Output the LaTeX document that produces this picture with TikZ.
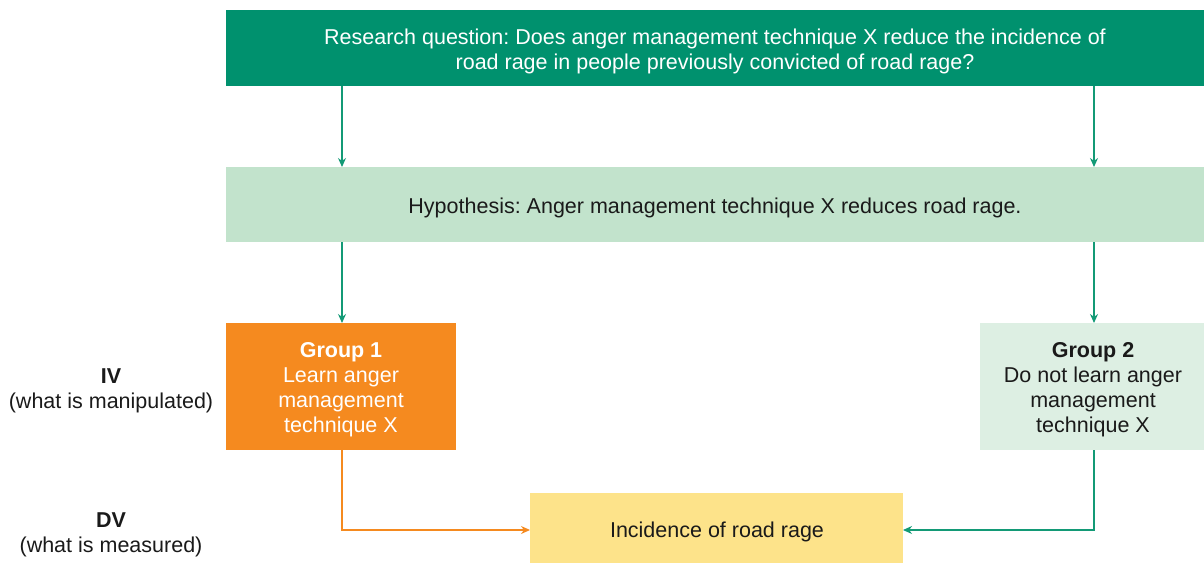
\documentclass[tikz,border=0pt]{standalone}
\usepackage{fontspec}
\setmainfont{Liberation Sans}
\usetikzlibrary{arrows.meta}
\definecolor{dkgreen}{HTML}{00916E}
\definecolor{ltgreen}{HTML}{C2E3CC}
\definecolor{palegreen}{HTML}{DDEFE3}
\definecolor{grouporange}{HTML}{F58A1F}
\definecolor{outyellow}{HTML}{FDE38A}
\definecolor{arrowgreen}{HTML}{139A76}
\definecolor{arroworange}{HTML}{F58A1F}
\definecolor{labeltext}{HTML}{1A1A1A}
\frenchspacing
\begin{document}
\begin{tikzpicture}[x=1pt,y=-1pt,
  every node/.style={font=\fontsize{21.5}{25}\selectfont, text=labeltext},
  box/.style={inner sep=0pt, outer sep=0pt, align=center},
  link/.style={line width=1.2pt, -{Stealth[length=9pt,width=8pt]}},
  greenlink/.style={link, draw=arrowgreen},
  orangelink/.style={link, draw=arroworange}]
  \useasboundingbox (0,0) rectangle (1204,564);

  % boxes
  \fill[dkgreen] (226,10) rectangle (1204,86);
  \node[box, text=white] (rq) at (715,51.5) {Research question: Does anger management technique X reduce the incidence of\\road rage in people previously convicted of road rage?};
  \coordinate (rqL) at (342,86);
  \coordinate (rqR) at (1094,86);

  \fill[ltgreen] (226,167) rectangle (1204,242);
  \node[box] (hyp) at (715,208) {Hypothesis: Anger management technique X reduces road rage.};
  \coordinate (hypLt) at (342,167);
  \coordinate (hypRt) at (1094,167);
  \coordinate (hypLb) at (342,242);
  \coordinate (hypRb) at (1094,242);

  \fill[grouporange] (226,323) rectangle (456,450);
  \node[box, text=white] (g1) at (341,390) {\textbf{Group 1}\\Learn anger\\management\\technique X};
  \coordinate (g1t) at (342,323);
  \coordinate (g1b) at (342,450);

  \fill[palegreen] (980,323) rectangle (1204,450);
  \node[box] (g2) at (1093,390) {\textbf{Group 2}\\Do not learn anger\\management\\technique X};
  \coordinate (g2t) at (1094,323);
  \coordinate (g2b) at (1094,450);

  \fill[outyellow] (530,493) rectangle (903,563);
  \node[box] (dv) at (717,532) {Incidence of road rage};
  \coordinate (dvW) at (530,530);
  \coordinate (dvE) at (903,530);

  % side labels
  \node[box] (iv) at (111,391) {\textbf{IV}\\(what is manipulated)};
  \node[box] (dvlab) at (111,535) {\textbf{DV}\\(what is measured)};

  % connectors
  \draw[greenlink] (rqL) -- (hypLt);
  \draw[greenlink] (rqR) -- (hypRt);
  \draw[greenlink] (hypLb) -- (g1t);
  \draw[greenlink] (hypRb) -- (g2t);
  \draw[orangelink] (g1b) |- (dvW);
  \draw[greenlink] (g2b) |- (dvE);
\end{tikzpicture}
\end{document}
